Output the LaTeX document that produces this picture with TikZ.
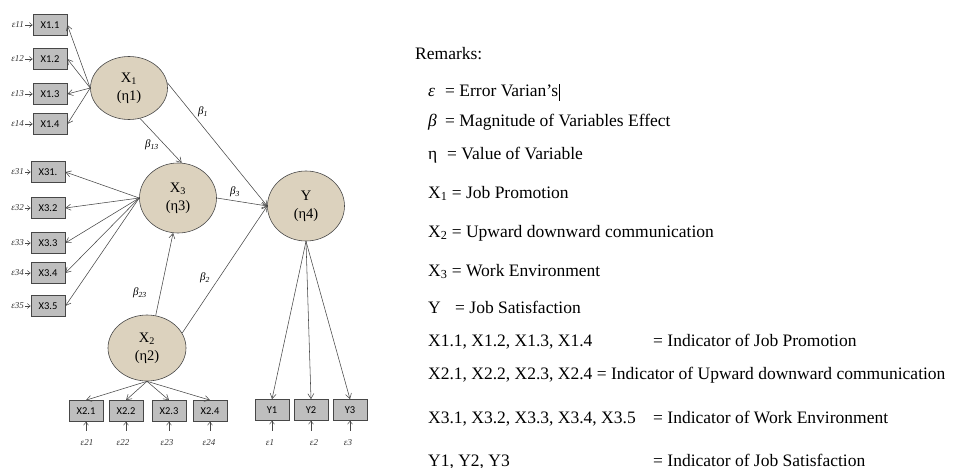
\documentclass[tikz,border=0pt]{standalone}
\usepackage{fontspec}
\setmainfont{Liberation Serif}
\newfontfamily\boxfont{Carlito}
\usetikzlibrary{shapes.geometric,arrows.meta}

\definecolor{latentfill}{HTML}{DCD2BE}
\definecolor{obsfill}{HTML}{BEBEBE}
\definecolor{edgegray}{HTML}{474747}

\begin{document}
\begin{tikzpicture}[x=1pt,y=-1pt,
  latent/.style={ellipse, draw=edgegray, fill=latentfill, line width=0.6pt,
    inner sep=0pt, minimum width=77pt, minimum height=66pt, align=center,
    font=\fontsize{14.5}{18}\selectfont},
  obs/.style={rectangle, draw=edgegray, fill=obsfill, line width=0.7pt,
    minimum width=34pt, minimum height=21pt, inner sep=0pt,
    font=\boxfont\fontsize{10.5}{12}\selectfont},
  err/.style={font=\itshape\fontsize{9}{10}\selectfont, text=black!80, inner sep=1pt},
  coef/.style={font=\fontsize{11}{12}\selectfont, inner sep=0pt},
  effect/.style={draw=edgegray, line width=0.55pt, -{Straight Barb[length=5pt,width=6pt]}},
  errarrow/.style={draw=edgegray, line width=0.5pt, -{Straight Barb[length=3pt,width=5pt]}},
  rem/.style={anchor=base west, inner sep=0pt, font=\fontsize{17.5}{20}\selectfont},
]
\useasboundingbox (0,0) rectangle (953,468);

% latent variables
\node[latent, minimum height=63pt] (X1) at (129,88) {X\textsubscript{1}\\(η1)};
\node[latent, minimum height=70pt] (X3) at (178,198) {X\textsubscript{3}\\(η3)};
\node[latent, minimum height=70pt] (Y)  at (306,206) {Y\\(η4)};
\node[latent, minimum width=78pt] (X2) at (147,348) {X\textsubscript{2}\\(η2)};

% indicators of X1
\node[obs] (x11) at (50,25)  {X1.1};
\node[obs] (x12) at (50,59)  {X1.2};
\node[obs] (x13) at (50,94)  {X1.3};
\node[obs] (x14) at (50,124) {X1.4};
% indicators of X3
\node[obs] (x31) at (48,172) {X31.};
\node[obs] (x32) at (48,208) {X3.2};
\node[obs] (x33) at (48,243) {X3.3};
\node[obs] (x34) at (48,273) {X3.4};
\node[obs] (x35) at (48,306) {X3.5};
% indicators of X2
\node[obs] (x21) at (86,411)  {X2.1};
\node[obs] (x22) at (126,411) {X2.2};
\node[obs] (x23) at (169,411) {X2.3};
\node[obs] (x24) at (210,411) {X2.4};
% indicators of Y
\node[obs] (y1) at (272,410) {Y1};
\node[obs] (y2) at (311,410) {Y2};
\node[obs] (y3) at (350,410) {Y3};

% error terms, left side
\foreach \n/\lab/\yy in {x11/11/25, x12/12/59, x13/13/94, x14/14/124,
                         x31/31/172, x32/32/208, x33/33/243, x34/34/273, x35/35/306} {
  \node[err, anchor=east] (e\n) at (25,\yy) {ε\lab};
  \draw[errarrow] (e\n.east) -- (\n.west);
}
% error terms, bottom
\foreach \n/\lab/\xx in {x21/21/87, x22/22/123, x23/23/167, x24/24/209,
                         y1/1/270, y2/2/314, y3/3/348} {
  \node[err] (e\n) at (\xx,443) {ε\lab};
  \draw[errarrow, shorten <=8pt] (\n.south |- e\n.north) -- (\n.south);
}

% measurement paths
\foreach \b in {x11,x12,x13,x14} \draw[effect] (X1.west) -- (\b.east);
\foreach \b in {x31,x32,x33,x34,x35} \draw[effect] (X3.west) -- (\b.east);
\foreach \b in {x21,x22,x23,x24} \draw[effect] (X2.south) -- (\b.north);
\foreach \b in {y1,y2,y3} \draw[effect] (Y.south) -- (\b.north);

% structural paths
\draw[effect] (X1.8) -- (Y.west);
\draw[effect] (X1.-70) -- (X3.84);
\draw[effect] (X3.east) -- (Y.west);
\draw[effect] (X2.75) -- (X3.262);
\draw[effect] (X2.23) -- (Y.west);

% path coefficients
\node[coef] (b1)  at (203,112) {\textit{β}\textsubscript{\textit{1}}};
\node[coef] (b13) at (152,145) {\textit{β}\textsubscript{\textit{13}}};
\node[coef] (b3)  at (235,192) {\textit{β}\textsubscript{\textit{3}}};
\node[coef] (b23) at (140,293) {\textit{β}\textsubscript{\textit{23}}};
\node[coef] (b2)  at (205,278) {\textit{β}\textsubscript{\textit{2}}};

% remarks
\node[rem] (rtitle) at (415,60) {Remarks:};
\node[rem] (reps)   at (428,97) {\textit{ε}};
\node[rem] (repsd)  at (445,97) {= Error Varian’s\kern1pt\rule[-4pt]{0.8pt}{17pt}};
\node[rem] (rbeta)  at (428,127) {\textit{β}};
\node[rem] (rbetad) at (445,127) {= Magnitude of Variables Effect};
\node[rem] (reta)   at (428,160) {η};
\node[rem] (retad)  at (447,160) {= Value of Variable};
\node[rem] (rx1)    at (428,198) {X\textsubscript{1} = Job Promotion};
\node[rem] (rx2)    at (428,237) {X\textsubscript{2} = Upward downward communication};
\node[rem] (rx3)    at (428,276) {X\textsubscript{3} = Work Environment};
\node[rem] (ry)     at (428,313) {Y};
\node[rem] (ryd)    at (455,313) {= Job Satisfaction};
\node[rem] (ri1)    at (428,346) {X1.1, X1.2, X1.3, X1.4};
\node[rem] (ri1d)   at (653,346) {= Indicator of Job Promotion};
\node[rem] (ri2)    at (428,379) {X2.1, X2.2, X2.3, X2.4 = Indicator of Upward downward communication};
\node[rem] (ri3)    at (428,423) {X3.1, X3.2, X3.3, X3.4, X3.5};
\node[rem] (ri3d)   at (653,423) {= Indicator of Work Environment};
\node[rem] (ri4)    at (428,466) {Y1, Y2, Y3};
\node[rem] (ri4d)   at (653,466) {= Indicator of Job Satisfaction};
\end{tikzpicture}
\end{document}
